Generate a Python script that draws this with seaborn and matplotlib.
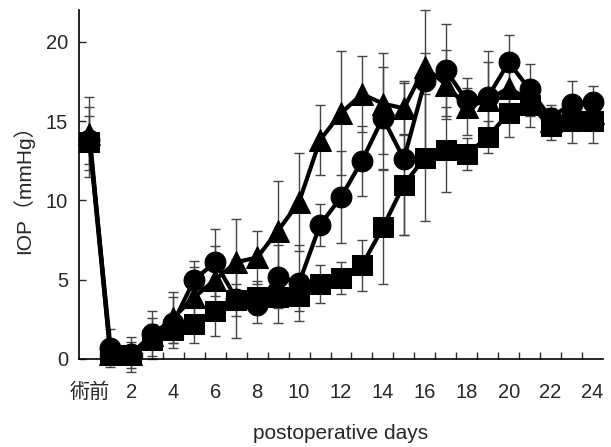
import numpy as np
import pandas as pd
import matplotlib
matplotlib.use("Agg")
import matplotlib.pyplot as plt
import seaborn as sns

days = list(range(0, 25))
tick_labels = ["術前"] + [str(d) for d in range(2, 25, 2)]

tri_mean = [14.2, 0.3, 0.3, 1.5, 2.6, 3.9, 5.0, 6.1, 6.4, 8.1, 9.9, 13.8, 15.5,
            16.7, 16.1, 15.8, 18.4, 17.3, 15.9, 16.3, 17.1, 16.3, 15.0, 15.5, 15.5]
tri_sd = [2.3, 0.5, 0.5, 1.5, 1.6, 1.9, 2.1, 2.75, 1.7, 3.1, 3.1, 2.2, 3.9,
          2.4, 3.2, 1.7, 0.9, 2.2, 1.8, 2.4, 1.5, 1.0, 0.8, 1.0, 1.0]

cir_mean = [13.8, 0.7, 0.3, 1.6, 2.3, 5.0, 6.1, 3.8, 3.4, 5.2, 4.8, 8.45, 10.2,
            12.5, 15.2, 12.6, 17.5, 18.2, 16.3, 16.5, 18.7, 17.0, 15.2, 16.1, 16.2]
cir_sd = [1.5, 1.2, 1.1, 1.0, 1.6, 1.2, 2.1, 2.5, 1.1, 2.0, 2.4, 1.35, 2.9,
          2.2, 3.2, 4.8, 4.5, 2.9, 0.8, 2.9, 1.7, 1.6, 0.8, 1.4, 1.0]

sq_mean = [13.7, 0.25, 0.25, 1.2, 1.8, 2.2, 3.0, 3.7, 3.9, 3.9, 4.0, 4.7, 5.1,
           5.9, 8.3, 11.0, 12.7, 13.2, 12.9, 14.0, 15.5, 16.0, 14.7, 15.0, 15.0]
sq_sd = [2.2, 0.5, 0.8, 1.0, 0.8, 1.2, 1.55, 1.0, 1.0, 1.6, 1.0, 1.2, 1.0,
         1.6, 3.6, 3.2, 4.0, 2.7, 1.0, 1.0, 1.5, 1.4, 0.9, 1.4, 1.4]

sns.set_style("ticks")
plt.rcParams['font.family'] = ['Liberation Sans', 'Noto Sans CJK JP', 'DejaVu Sans']

fig = plt.figure(figsize=(6.11, 4.47), dpi=100)
ax = fig.add_axes([79 / 611, 1 - 359 / 447, (603 - 79) / 611, (359 - 10) / 447])

series = [
    ("square", sq_mean, sq_sd, "s", 14),
    ("triangle", tri_mean, tri_sd, "^", 16),
    ("circle", cir_mean, cir_sd, "o", 15),
]

for name, mean, sd, mk, ms in series:
    ax.errorbar(days, mean, yerr=sd, fmt="none", ecolor="#444444", elinewidth=1.0,
                capsize=3.5, capthick=1.0, zorder=2, clip_on=False)

for name, mean, sd, mk, ms in series:
    df = pd.DataFrame({"day": days, "iop": mean})
    sns.lineplot(data=df, x="day", y="iop", ax=ax, color="black", linewidth=3,
                 marker=mk, markersize=ms, markeredgecolor="black",
                 markerfacecolor="black", zorder=3, clip_on=False, legend=False)

ax.set_xlim(-0.5, 24.5)
ax.set_ylim(0, 22)
ax.set_xticks(range(0, 25, 2))
ax.set_xticklabels(tick_labels)
ax.set_xticks(np.arange(0.5, 24, 1), minor=True)
ax.tick_params(axis="x", which="major", length=0, pad=17, labelsize=14.5)
ax.tick_params(axis="x", which="minor", direction="in", length=5, width=1)
ax.set_yticks([0, 5, 10, 15, 20])
ax.tick_params(axis="y", direction="in", length=5, width=1, pad=8, labelsize=14.5)
for s in ["top", "right"]:
    ax.spines[s].set_visible(False)
for s in ["left", "bottom"]:
    ax.spines[s].set_linewidth(1.2)
    ax.spines[s].set_color("black")

ax.set_xlabel("postoperative days", fontsize=15, labelpad=16)
ax.set_ylabel("IOP（mmHg）", fontsize=15, labelpad=8)

fig.savefig("out.png", dpi=100)
